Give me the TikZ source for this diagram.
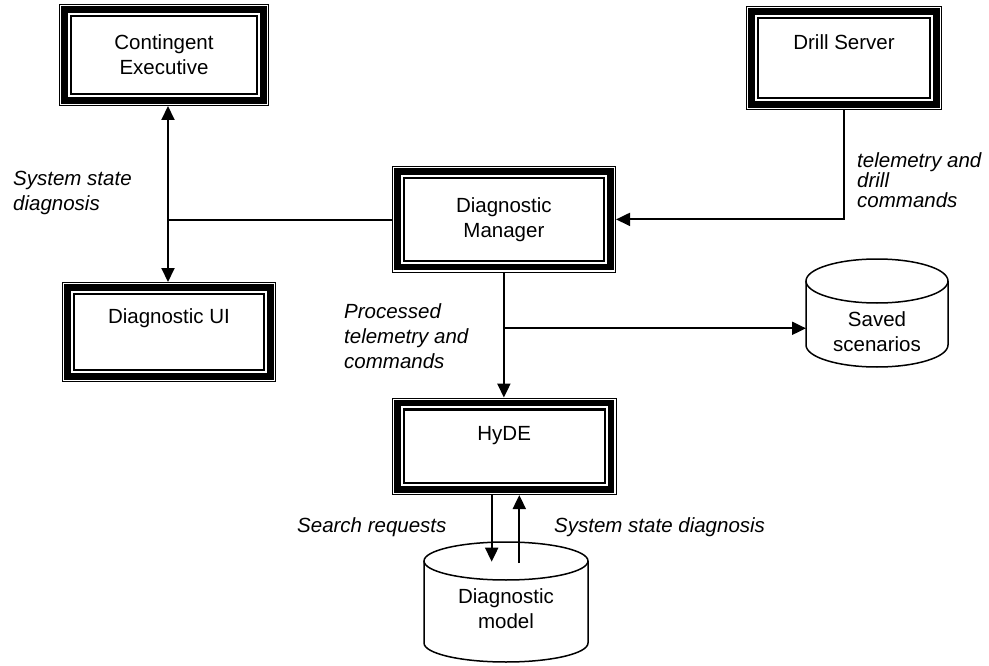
\documentclass[tikz,border=0pt]{standalone}
\usepackage{fontspec}
\setmainfont{Liberation Sans}
\usetikzlibrary{arrows.meta,calc}
\begin{document}
\begin{tikzpicture}[x=1pt,y=-1pt,
  every node/.style={font=\fontsize{20.5}{25}\selectfont},
  tbox/.style={draw, line width=1.2pt, inner sep=0pt, align=center},
  lab/.style={font=\fontsize{20.5}{25}\selectfont\itshape, align=left, anchor=north west, inner sep=0pt},
  ctext/.style={align=center, inner sep=0pt},
  conn/.style={line width=2pt},
  arr/.style={conn, -{Triangle[width=13pt,length=14pt]}},
  cyl/.style={line width=1.5pt},
  thickframe/.style={line width=6.4pt},
  thinframe/.style={line width=2.2pt}]
\useasboundingbox (0,0) rectangle (989,666);

% boxes
\node[tbox, minimum width=208.8pt, minimum height=100.8pt] (CE) at (164,55) {Contingent\\Executive};
\node[tbox, minimum width=212.8pt, minimum height=98.8pt] (DUI) at (169,332) {Diagnostic UI\\\strut};
\node[tbox, minimum width=223.1pt, minimum height=105.5pt] (DM) at (503.9,219.4) {Diagnostic\\Manager};
\node[tbox, minimum width=223.8pt, minimum height=96.3pt] (HyDE) at (504.2,446.3) {HyDE\\\mbox{}};
\node[tbox, minimum width=194.8pt, minimum height=102.8pt] (DS) at (844,58) {Drill Server\\\strut};

\foreach \n in {CE,DUI,DM,HyDE,DS}{
  \draw[thickframe] ([shift={(5.6pt,-5.6pt)}]\n.north west) rectangle ([shift={(-5.6pt,5.6pt)}]\n.south east);
  \draw[thinframe] ([shift={(12pt,-12pt)}]\n.north west) rectangle ([shift={(-12pt,12pt)}]\n.south east);
}

% cylinders
\draw[cyl] (877,281) ellipse[x radius=71pt, y radius=22pt];
\draw[cyl] (806,281) -- (806,345) arc[start angle=180, end angle=360, x radius=71pt, y radius=22pt] -- (948,281);
\node[ctext] (saved) at (877,331.5) {Saved\\scenarios};

\draw[cyl] (506,561) ellipse[x radius=82pt, y radius=19pt];
\draw[cyl] (424,561) -- (424,643) arc[start angle=180, end angle=360, x radius=82pt, y radius=19pt] -- (588,561);
\node[ctext] (model) at (506,608.5) {Diagnostic\\model};

% connectors
\coordinate (jL) at (168,220.5);
\draw[conn] (jL) -- (jL -| DM.west);
\draw[arr] (jL) -- (jL |- CE.south);
\draw[arr] (jL) -- (jL |- DUI.north);
\draw[arr] (DS.south) |- (DM.east);
\draw[arr] (DM.south) -- (DM.south |- HyDE.north);
\coordinate (savedW) at (806,328.3);
\draw[arr] (DM.south |- savedW) -- (savedW);
\coordinate (mdn) at (491.7,561.7);
\coordinate (mup) at (519.3,563);
\draw[arr] (mdn |- HyDE.south) -- (mdn);
\draw[arr] (mup) -- (mup |- HyDE.south);

% labels
\node[lab] (lsys) at (13,170.5) {System state\\diagnosis};
\node[lab, font=\fontsize{20.5}{20}\selectfont\itshape] (ldrill) at (857,152) {telemetry and\\drill\\commands};
\node[lab] (lproc) at (344,303.5) {Processed\\telemetry and\\commands};
\node[lab] (lsearch) at (297,517) {Search requests};
\node[lab] (lsys2) at (554,517) {System state diagnosis};
\end{tikzpicture}
\end{document}
